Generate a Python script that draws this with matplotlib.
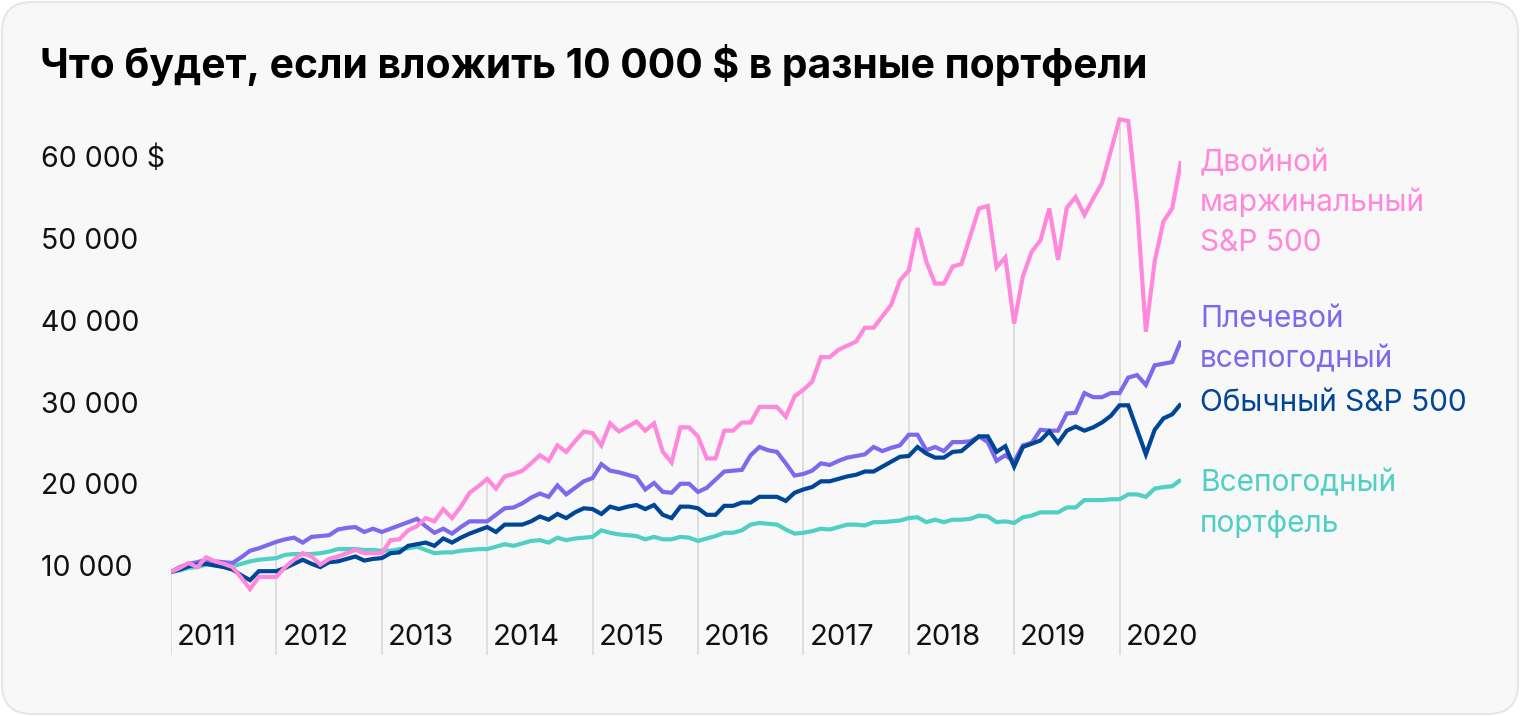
import matplotlib
matplotlib.use("Agg")
import matplotlib.pyplot as plt
import matplotlib.transforms as mtransforms
from matplotlib.patches import FancyBboxPatch

plt.rcParams['font.family'] = ['Inter', 'DejaVu Sans']

# ---------------- data (thousands of $) ----------------
title = "Что будет, если вложить 10 000 $ в разные портфели"
years = ["2011", "2012", "2013", "2014", "2015", "2016", "2017", "2018", "2019", "2020"]
y_ticks = [10000, 20000, 30000, 40000, 50000, 60000]
y_tick_labels = ["10 000", "20 000", "30 000", "40 000", "50 000", "60 000 $"]

double_margin_sp500 = [
    10.0, 10.5, 11.1, 10.6, 11.8, 11.3, 11.0, 10.6, 9.3, 7.9,
    9.4, 9.4, 9.4, 10.6, 11.5, 12.3, 11.9, 10.9, 11.6, 11.9,
    12.3, 12.7, 12.3, 12.3, 12.3, 13.9, 14.0, 15.1, 15.6, 16.6,
    16.2, 17.7, 16.6, 18.0, 19.7, 20.5, 21.4, 20.2, 21.7, 22.0,
    22.4, 23.3, 24.3, 23.6, 25.5, 24.7, 26.0, 27.2, 27.0, 25.5,
    28.2, 27.2, 27.8, 28.4, 27.3, 28.2, 24.7, 23.4, 27.7, 27.7,
    26.6, 23.9, 23.9, 27.3, 27.3, 28.3, 28.3, 30.2, 30.2, 30.2,
    29.0, 31.5, 32.3, 33.3, 36.3, 36.3, 37.2, 37.7, 38.2, 39.9,
    39.9, 41.3, 42.7, 45.7, 46.9, 52.1, 48.0, 45.3, 45.3, 47.4,
    47.7, 51.1, 54.5, 54.8, 47.3, 48.5, 40.4, 46.2, 49.2, 50.6,
    54.5, 48.2, 54.6, 55.9, 53.7, 55.7, 57.6, 61.5, 65.4, 65.2,
    54.8, 39.4, 48.0, 52.9, 54.5, 60.3]

leveraged_all_weather = [
    10.0, 10.6, 11.0, 11.2, 11.5, 11.3, 11.2, 11.1, 11.8, 12.6,
    12.9, 13.3, 13.7, 14.0, 14.2, 13.6, 14.3, 14.4, 14.5, 15.2,
    15.4, 15.5, 14.9, 15.3, 14.9, 15.3, 15.7, 16.1, 16.5, 15.6,
    14.8, 15.3, 14.7, 15.5, 16.2, 16.2, 16.2, 17.0, 17.8, 17.9,
    18.4, 19.1, 19.6, 19.2, 20.6, 19.5, 20.3, 21.1, 21.5, 23.2,
    22.4, 22.2, 21.9, 21.6, 20.1, 20.9, 19.8, 19.7, 20.8, 20.8,
    19.8, 20.3, 21.3, 22.3, 22.4, 22.5, 24.3, 25.3, 24.9, 24.7,
    23.3, 21.8, 22.0, 22.4, 23.3, 23.1, 23.6, 24.0, 24.2, 24.4,
    25.3, 24.8, 25.2, 25.5, 26.8, 26.8, 24.9, 25.3, 24.8, 25.9,
    25.9, 26.0, 26.6, 25.9, 23.6, 24.3, 23.5, 25.5, 25.8, 27.4,
    27.3, 27.3, 29.4, 29.5, 31.9, 31.4, 31.4, 31.9, 31.9, 33.8,
    34.1, 32.9, 35.3, 35.5, 35.7, 38.3]

regular_sp500 = [
    10.0, 10.3, 10.7, 10.9, 11.0, 10.8, 10.6, 10.3, 9.6, 9.0,
    10.1, 10.1, 10.1, 10.5, 11.0, 11.5, 11.0, 10.6, 11.2, 11.3,
    11.6, 11.9, 11.4, 11.6, 11.7, 12.3, 12.4, 13.2, 13.4, 13.6,
    13.2, 14.1, 13.6, 14.2, 14.7, 15.1, 15.5, 14.9, 15.8, 15.8,
    15.8, 16.2, 16.8, 16.4, 17.1, 16.6, 17.3, 17.8, 17.7, 17.1,
    18.0, 17.7, 18.0, 18.2, 17.7, 18.2, 17.0, 16.6, 18.0, 18.0,
    17.8, 17.0, 17.0, 18.1, 18.1, 18.5, 18.5, 19.2, 19.2, 19.2,
    18.7, 19.7, 20.1, 20.4, 21.1, 21.1, 21.4, 21.7, 21.9, 22.3,
    22.3, 22.9, 23.5, 24.1, 24.2, 25.3, 24.5, 24.0, 24.0, 24.7,
    24.8, 25.7, 26.6, 26.6, 24.7, 25.4, 22.9, 25.3, 25.7, 26.1,
    27.2, 25.8, 27.3, 27.8, 27.3, 27.7, 28.3, 29.1, 30.4, 30.4,
    27.4, 24.4, 27.4, 28.8, 29.3, 30.6]

all_weather = [
    10.0, 10.2, 10.5, 10.6, 10.9, 10.8, 10.7, 10.7, 11.0, 11.3,
    11.5, 11.6, 11.7, 12.1, 12.2, 12.2, 12.2, 12.3, 12.5, 12.8,
    12.8, 12.8, 12.7, 12.7, 12.6, 12.6, 12.8, 12.9, 13.1, 12.7,
    12.3, 12.4, 12.4, 12.6, 12.7, 12.8, 12.8, 13.1, 13.4, 13.2,
    13.5, 13.8, 13.9, 13.6, 14.2, 13.9, 14.1, 14.2, 14.3, 15.1,
    14.8, 14.6, 14.5, 14.4, 14.0, 14.3, 14.0, 14.0, 14.3, 14.2,
    13.8, 14.1, 14.4, 14.8, 14.8, 15.1, 15.8, 16.0, 15.9, 15.8,
    15.2, 14.7, 14.8, 15.0, 15.3, 15.2, 15.5, 15.8, 15.8, 15.7,
    16.1, 16.1, 16.2, 16.3, 16.6, 16.7, 16.1, 16.4, 16.1, 16.4,
    16.4, 16.5, 16.9, 16.8, 16.1, 16.2, 16.0, 16.7, 16.9, 17.3,
    17.3, 17.3, 17.9, 17.9, 18.8, 18.8, 18.8, 18.9, 18.9, 19.5,
    19.5, 19.2, 20.2, 20.4, 20.5, 21.3]

label_double = ["Двойной", "маржинальный", "S&P 500"]
label_lev_aw = ["Плечевой", "всепогодный"]
label_sp500 = ["Обычный S&P 500"]
label_aw = ["Всепогодный", "портфель"]

# ---------------- styling ----------------
C_PINK = "#FF88DD"
C_PURPLE = "#7D69EB"
C_NAVY = "#004696"
C_TEAL = "#50D0C4"
GRID = "#DCDCDC"

W, H = 1520, 716
fig = plt.figure(figsize=(W / 100, H / 100), dpi=100)
fig.patch.set_facecolor("white")

card = FancyBboxPatch((2, 2), W - 4, H - 4,
                      boxstyle="round,pad=0,rounding_size=30",
                      transform=mtransforms.IdentityTransform(),
                      facecolor="#F8F8F8", edgecolor="#E6E6E6", linewidth=1.5,
                      zorder=0)
fig.add_artist(card)

# axes geometry (pixels)
x_left, x_right = 171, 1181
y_top, y_bottom = 100, 655
px_per_k = 8.17  # pixels per 1000 $
y_at_10k = 572

ax = fig.add_axes([x_left / W, (H - y_bottom) / H, (x_right - x_left) / W, (y_bottom - y_top) / H])
ax.set_facecolor("none")
for s in ax.spines.values():
    s.set_visible(False)
ax.set_xticks([])
ax.set_yticks([])

n = len(regular_sp500)
xs = list(range(n))
ax.set_xlim(0, n - 1)
ylo = 10000 - (y_bottom - y_at_10k) / px_per_k * 1000
yhi = 10000 + (y_at_10k - y_top) / px_per_k * 1000
ax.set_ylim(ylo, yhi)

series = [
    (all_weather, C_TEAL),
    (leveraged_all_weather, C_PURPLE),
    (regular_sp500, C_NAVY),
    (double_margin_sp500, C_PINK),
]
vals = [[v * 1000 for v in s] for s, _ in series]

# vertical year lines up to the highest line
for j in range(len(years)):
    k = 12 * j
    top = max(v[k] for v in vals)
    ax.plot([k, k], [ylo, top], color=GRID, lw=1.3, zorder=1, solid_capstyle="butt")

for (s, c), v in zip(series, vals):
    ax.plot(xs, v, color=c, lw=3.0, zorder=3, solid_joinstyle="miter", solid_capstyle="butt")

FS_TICK = 20.5
FS_YEAR = 21
FS_LAB = 21.5

# year labels
tr_year = mtransforms.blended_transform_factory(ax.transData, fig.transFigure) + \
    mtransforms.ScaledTranslation(6 / 100, 0, fig.dpi_scale_trans)
for j, yr in enumerate(years):
    ax.text(12 * j, (H - 645) / H, yr, transform=tr_year, ha="left", va="baseline",
            fontsize=FS_YEAR, color="#111111")

# y tick labels
tr_y = mtransforms.blended_transform_factory(fig.transFigure, ax.transData) + \
    mtransforms.ScaledTranslation(0, -4 / 100, fig.dpi_scale_trans)
for val, lab in zip(y_ticks, y_tick_labels):
    ax.text(41 / W, val, lab, transform=tr_y, ha="left", va="baseline",
            fontsize=FS_TICK, color="#111111", clip_on=False)

# title
fig.text(40 / W, (H - 78) / H, title, ha="left", va="baseline",
         fontsize=29.4, fontweight="bold", color="black")

# series labels on the right
def put_label(lines, baselines, color):
    for t, b in zip(lines, baselines):
        fig.text(1200 / W, (H - b) / H, t, ha="left", va="baseline", fontsize=FS_LAB, color=color)

put_label(label_double, [171.5, 211.5, 251], C_PINK)
put_label(label_lev_aw, [327.5, 367.5], C_PURPLE)
put_label(label_sp500, [411], C_NAVY)
put_label(label_aw, [491.5, 531.5], C_TEAL)

fig.savefig("out.png", dpi=100, facecolor=fig.get_facecolor())
